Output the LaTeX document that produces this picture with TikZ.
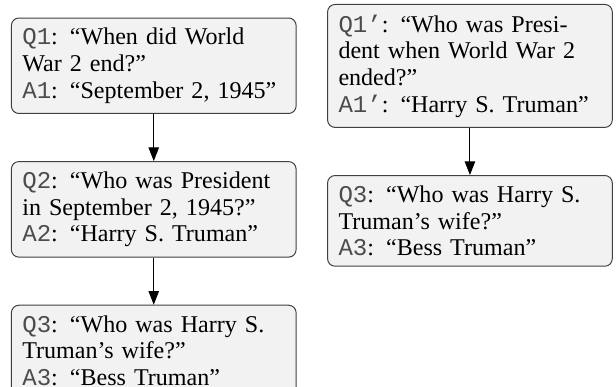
\documentclass[tikz,border=0pt]{standalone}
\usepackage{fontspec}
\setmainfont{Liberation Serif}
\setmonofont{Liberation Mono}
\usetikzlibrary{positioning, arrows.meta}
\tikzset{
  >={Triangle[length=5.5pt, width=4.2pt]}, % filled arrow heads
  node distance=19pt, % gap between two boxes. Change if necessary.
  qabox/.style={draw=black!75, fill=black!5, rounded corners=3pt,
    line width=0.4pt, text width=106pt, inner xsep=4.4pt, inner ysep=4.1pt,
    align=left, font=\fontsize{9.7pt}{10.75pt}\selectfont}, % every box
}
\newcommand{\qlab}[1]{\textcolor{black!70}{\texttt{#1}}}

\begin{document}
\begin{tikzpicture}
    \useasboundingbox (0,0) rectangle (248.4pt,-156pt);

    \node[qabox, anchor=north west] (q1) at (4.4pt,-7.06pt) {\qlab{Q1}: “When did World\\War 2 end?”\\\qlab{A1}: “September 2, 1945”};
    \node[qabox, below=of q1] (q2) {\qlab{Q2}: “Who was President\\in September 2, 1945?”\\\qlab{A2}: “Harry S. Truman”};
    \node[qabox, below=of q2] (q3) {\qlab{Q3}: “Who was Harry S.\\Truman’s wife?”\\\qlab{A3}: “Bess Truman”};

    \node[qabox, anchor=north west] (q1p) at (131.9pt,-1.6pt) {\qlab{Q1’}: “Who was Presi-\\dent when World War 2\\ended?”\\\qlab{A1’}: “Harry S. Truman”};
    \node[qabox, below=of q1p] (q3p) {\qlab{Q3}: “Who was Harry S.\\Truman’s wife?”\\\qlab{A3}: “Bess Truman”};

    \draw[->]
    (q1) edge (q2)
    (q2) edge (q3)
    (q1p) edge (q3p)
    ;
  \end{tikzpicture}
\end{document}
